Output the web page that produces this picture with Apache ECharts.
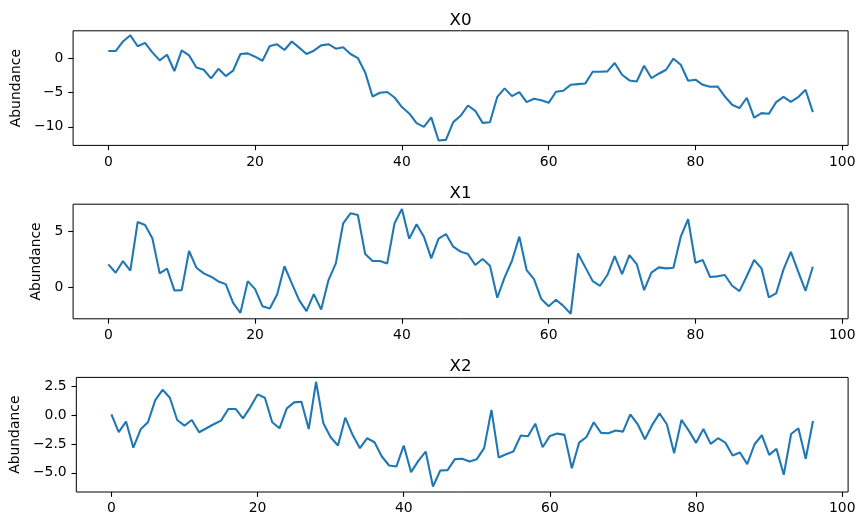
<!DOCTYPE html>
<html><head><meta charset="utf-8">
<script src="https://cdn.jsdelivr.net/npm/echarts@6/dist/echarts.min.js"></script>
<style>html,body{margin:0;padding:0;background:#fff}#c{width:865px;height:526px}</style>
</head><body><div id="c"></div>
<script>
const titles = ['X0', 'X1', 'X2'];
const yLabel = 'Abundance';
const xTicks = [0, 20, 40, 60, 80, 100];
const yTicks0 = [-10, -5, 0];
const yTicks1 = [0, 5];
const yTicks2 = [-5.0, -2.5, 0.0, 2.5];

const x0 = [1.1,1.1,2.5,3.4,1.8,2.3,0.9,-0.27,0.56,-1.83,1.2,0.46,-1.3,-1.64,-2.9,-1.5,-2.57,-1.78,0.66,0.76,0.27,-0.32,1.83,2.08,1.25,2.5,1.6,0.66,1.15,1.93,2.1,1.44,1.64,0.66,0.07,-2.03,-5.55,-5.0,-4.9,-5.7,-7.1,-8.04,-9.46,-10.0,-8.6,-12.0,-11.9,-9.3,-8.38,-6.87,-7.65,-9.41,-9.31,-5.6,-4.37,-5.5,-4.91,-6.38,-5.89,-6.09,-6.48,-4.86,-4.72,-3.84,-3.74,-3.64,-1.93,-1.93,-1.88,-0.66,-2.37,-3.2,-3.35,-1.05,-2.86,-2.22,-1.64,-0.02,-0.9,-3.25,-3.1,-3.84,-4.13,-4.08,-5.55,-6.77,-7.26,-5.74,-8.63,-7.99,-8.09,-6.38,-5.6,-6.33,-5.65,-4.57,-7.85];
const x1 = [2.04,1.29,2.34,1.47,5.87,5.6,4.39,1.23,1.65,-0.31,-0.28,3.25,1.74,1.23,0.93,0.5,0.26,-1.43,-2.33,0.53,-0.19,-1.73,-1.94,-0.67,1.87,0.32,-1.18,-2.18,-0.64,-2.03,0.62,2.13,5.75,6.65,6.5,2.97,2.34,2.34,2.13,5.75,7.04,4.36,5.66,4.54,2.58,4.36,4.78,3.64,3.19,2.97,1.98,2.52,1.92,-0.97,0.87,2.37,4.54,1.53,0.71,-1.09,-1.73,-1.15,-1.7,-2.42,3.03,1.77,0.53,0.11,1.08,2.79,1.17,2.88,2.07,-0.28,1.29,1.77,1.68,1.74,4.54,6.11,2.19,2.43,0.9,0.96,1.08,0.11,-0.37,0.99,2.43,1.68,-0.94,-0.58,1.59,3.16,1.38,-0.34,1.83];
const x2 = [0.06,-1.49,-0.57,-2.82,-1.24,-0.63,1.29,2.18,1.49,-0.43,-0.92,-0.43,-1.49,-1.15,-0.8,-0.49,0.52,0.52,-0.29,0.66,1.78,1.49,-0.63,-1.15,0.57,1.09,1.15,-1.21,2.87,-0.72,-1.93,-2.64,-0.23,-1.72,-2.87,-2.01,-2.36,-3.59,-4.37,-4.45,-2.64,-4.94,-3.97,-3.16,-6.18,-4.8,-4.77,-3.82,-3.78,-4.02,-3.82,-2.87,0.43,-3.68,-3.39,-3.16,-1.78,-1.84,-0.75,-2.79,-1.81,-1.61,-1.72,-4.6,-2.39,-1.9,-0.63,-1.55,-1.58,-1.35,-1.44,0.06,-0.78,-2.1,-0.86,0.14,-0.8,-3.3,-0.43,-1.35,-2.41,-1.21,-2.5,-2.01,-2.39,-3.51,-3.25,-4.25,-2.53,-1.75,-3.45,-2.93,-5.17,-1.64,-1.15,-3.79,-0.52];

const seriesData = [x0, x1, x2];
const yTicks = [yTicks0, yTicks1, yTicks2];
const yLims = [[-12.71, 4.06], [-2.87, 7.47], [-6.66, 3.25]];
const tops = [30.8, 204.2, 377.4];
const gridH = 114.6;
const gridLeft = 73.1, gridW = 775;
const nameGaps = [45.5, 25, 50];
const decimals = [0, 0, 1];
const FONT = 'DejaVu Sans';
const FS = 13.9;

const fmt = (v, d) => Number(v).toFixed(d).replace('-', '\u2212');

const option = {
  animation: false,
  backgroundColor: '#fff',
  title: titles.map((t, k) => ({
    text: t, left: gridLeft + gridW / 2, top: tops[k] - 20, textAlign: 'center', padding: 0,
    textStyle: {fontFamily: FONT, fontSize: 16.7, lineHeight: 19, fontWeight: 'normal', color: '#000'}
  })),
  grid: tops.map(t => ({left: gridLeft, top: t, width: gridW, height: gridH, show: true,
    borderColor: '#000', borderWidth: 1, backgroundColor: 'transparent'})),
  xAxis: tops.map((t, k) => ({
    type: 'value', gridIndex: k, min: -4.8, max: 100.8,
    axisLine: {show: false, onZero: false}, splitLine: {show: false},
    axisTick: {show: true, customValues: xTicks, length: 4.86, lineStyle: {color: '#000', width: 1.1}},
    axisLabel: {show: true, customValues: xTicks, margin: 9.7, color: '#000', fontFamily: FONT, fontSize: FS,
      formatter: v => fmt(v, 0)}
  })),
  yAxis: tops.map((t, k) => ({
    type: 'value', gridIndex: k, min: yLims[k][0], max: yLims[k][1],
    name: yLabel, nameLocation: 'middle', nameGap: nameGaps[k], nameRotate: 90,
    nameTextStyle: {fontFamily: FONT, fontSize: FS, color: '#000'},
    axisLine: {show: false, onZero: false}, splitLine: {show: false},
    axisTick: {show: true, customValues: yTicks[k], length: 4.86, lineStyle: {color: '#000', width: 1.1}},
    axisLabel: {show: true, customValues: yTicks[k], margin: 9.7, color: '#000', fontFamily: FONT, fontSize: FS,
      formatter: v => fmt(v, decimals[k])}
  })),
  series: seriesData.map((d, k) => ({
    type: 'line', xAxisIndex: k, yAxisIndex: k, showSymbol: false, symbol: 'none',
    data: d.map((v, i) => [i, v]),
    lineStyle: {color: '#1f77b4', width: 2.08}, z: 3
  }))
};
const chart = echarts.init(document.getElementById('c'), null, {renderer: 'canvas'});
chart.setOption(option);
</script>
</body></html>
